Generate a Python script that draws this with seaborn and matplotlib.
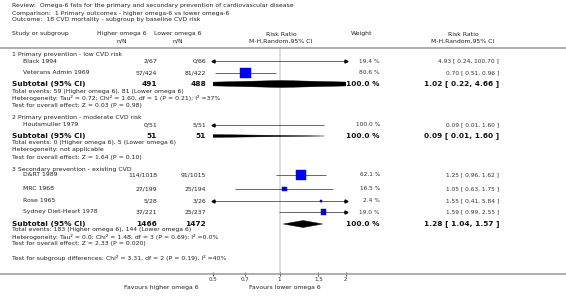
import numpy as np
import pandas as pd
import matplotlib
matplotlib.use("Agg")
import matplotlib.pyplot as plt
import seaborn as sns
from matplotlib.lines import Line2D
from matplotlib.patches import Polygon
from matplotlib.ticker import NullLocator

# ---------------- data ----------------
review = "Review:  Omega-6 fats for the primary and secondary prevention of cardiovascular disease"
comparison = "Comparison:  1 Primary outcomes - higher omega-6 vs lower omega-6"
outcome = "Outcome:  18 CVD mortality - subgroup by baseline CVD risk"

groups = ["1 Primary prevention - low CVD risk",
          "2 Primary prevention - moderate CVD risk",
          "3 Secondary prevention - existing CVD"]
study_names = ["Black 1994", "Veterans Admin 1969", "Houtsmuller 1979",
               "D&RT 1989", "MRC 1968", "Rose 1965", "Sydney Diet-Heart 1978"]
study_group = [0, 0, 1, 2, 2, 2, 2]
higher_events = [2, 57, 0, 114, 27, 5, 37]
higher_total = [67, 424, 51, 1018, 199, 28, 221]
lower_events = [0, 81, 5, 91, 25, 3, 25]
lower_total = [66, 422, 51, 1015, 194, 26, 237]
weights = [19.4, 80.6, 100.0, 62.1, 16.5, 2.4, 19.0]
rr = [4.93, 0.70, 0.09, 1.25, 1.05, 1.55, 1.59]
rr_lo = [0.24, 0.51, 0.01, 0.96, 0.63, 0.41, 0.99]
rr_hi = [100.70, 0.96, 1.60, 1.62, 1.75, 5.84, 2.55]

sub_higher_total = [491, 51, 1466]
sub_lower_total = [488, 51, 1472]
sub_weight = [100.0, 100.0, 100.0]
sub_rr = [1.02, 0.09, 1.28]
sub_lo = [0.22, 0.01, 1.04]
sub_hi = [4.66, 1.60, 1.57]
sub_events_text = ["Total events: 59 (Higher omega 6), 81 (Lower omega 6)",
                   "Total events: 0 (Higher omega 6), 5 (Lower omega 6)",
                   "Total events: 183 (Higher omega 6), 144 (Lower omega 6)"]
sub_het_text = ["Heterogeneity: Tau\u00b2 = 0.72; Chi\u00b2 = 1.60, df = 1 (P = 0.21); I\u00b2 =37%",
                "Heterogeneity: not applicable",
                "Heterogeneity: Tau\u00b2 = 0.0; Chi\u00b2 = 1.48, df = 3 (P = 0.69); I\u00b2 =0.0%"]
sub_effect_text = ["Test for overall effect: Z = 0.03 (P = 0.98)",
                   "Test for overall effect: Z = 1.64 (P = 0.10)",
                   "Test for overall effect: Z = 2.33 (P = 0.020)"]
subgroup_diff = "Test for subgroup differences: Chi\u00b2 = 3.31, df = 2 (P = 0.19), I\u00b2 =40%"
x_ticks = [0.5, 0.7, 1, 1.5, 2]
x_tick_labels = ["0.5", "0.7", "1", "1.5", "2"]
x_range = [0.5, 2]
favours_left = "Favours higher omega 6"
favours_right = "Favours lower omega 6"

# ---------------- layout (pixels) ----------------
W, H = 566, 297
group_y = [55, 118, 169]
study_y = [61, 73, 125, 175, 189, 201, 212]
subtotal_y = [84, 136, 224]
info_y0 = [91, 143, 230]
info_dy = 7
diff_y = 258
sep_y = 48
axis_y = 274
ax_left, ax_right = 213.3, 345.7

sns.set_theme(style="white")
plt.rcParams["font.family"] = ["DejaVu Sans"]

fig = plt.figure(figsize=(W / 100, H / 100), dpi=100)

def T(x, y, s, ha="left", size=4.4, weight="normal", color="#222222"):
    fig.text(x / W, 1 - y / H, s, ha=ha, va="center", fontsize=size,
             fontweight=weight, color=color)

# header
T(12, 6, review)
T(12, 13, comparison)
T(12, 20, outcome)
T(12, 34, "Study or subgroup")
T(122, 34, "Higher omega 6", ha="center")
T(122, 41, "n/N", ha="center")
T(178, 34, "Lower omega 6", ha="center")
T(178, 41, "n/N", ha="center")
T(281, 34, "Risk Ratio", ha="center")
T(281, 41, "M-H,Random,95% CI", ha="center")
T(362, 34, "Weight", ha="center")
T(463, 34, "Risk Ratio", ha="center")
T(463, 41, "M-H,Random,95% CI", ha="center")

fig.add_artist(Line2D([0, 1], [1 - sep_y / H] * 2, transform=fig.transFigure,
                      color="#a0a0a0", lw=1.2))
fig.add_artist(Line2D([0, 1], [1 - axis_y / H] * 2, transform=fig.transFigure,
                      color="#a0a0a0", lw=1.2))

# left/right text columns
for g, gname in enumerate(groups):
    T(12, group_y[g], gname)
for i, name in enumerate(study_names):
    y = study_y[i]
    T(23, y, name)
    T(157, y, f"{higher_events[i]}/{higher_total[i]}", ha="right")
    T(206, y, f"{lower_events[i]}/{lower_total[i]}", ha="right")
    T(380, y, f"{weights[i]:.1f} %", ha="right", size=4.2, color="#333333")
    T(499, y, f"{rr[i]:.2f} [ {rr_lo[i]:.2f}, {rr_hi[i]:.2f} ]", ha="right",
      size=4.2, color="#333333")
for g in range(3):
    y = subtotal_y[g]
    T(12, y, "Subtotal (95% CI)", size=5.3, weight="bold", color="#111111")
    T(157, y, f"{sub_higher_total[g]}", ha="right", size=5.3, weight="bold", color="#111111")
    T(206, y, f"{sub_lower_total[g]}", ha="right", size=5.3, weight="bold", color="#111111")
    T(380, y, f"{sub_weight[g]:.1f} %", ha="right", size=5.3, weight="bold", color="#111111")
    T(499, y, f"{sub_rr[g]:.2f} [ {sub_lo[g]:.2f}, {sub_hi[g]:.2f} ]", ha="right",
      size=5.3, weight="bold", color="#111111")
    for k, s in enumerate([sub_events_text[g], sub_het_text[g], sub_effect_text[g]]):
        T(12, info_y0[g] + k * info_dy, s)
T(12, diff_y, subgroup_diff)
T(161, 287, favours_left, ha="center")
T(285, 287, favours_right, ha="center")

# ---------------- forest axis ----------------
ax = fig.add_axes([ax_left / W, 1 - axis_y / H, (ax_right - ax_left) / W,
                   (axis_y - sep_y) / H])
ax.set_xscale("log")
ax.axvline(1, color="#d4d4d4", lw=1.1, zorder=0)

lo_c = np.clip(rr_lo, *x_range)
hi_c = np.clip(rr_hi, *x_range)
ax.hlines(study_y, lo_c, hi_c, color="#666666", lw=0.7, zorder=1)
for i in range(len(rr)):
    if rr_lo[i] < x_range[0]:
        ax.plot([x_range[0]], [study_y[i]], marker="<", ms=2.2, color="black",
                clip_on=False, zorder=3)
    if rr_hi[i] > x_range[1]:
        ax.plot([x_range[1]], [study_y[i]], marker=">", ms=2.2, color="black",
                clip_on=False, zorder=3)

df = pd.DataFrame({"rr": rr, "y": study_y, "weight": weights})
sns.scatterplot(data=df, x="rr", y="y", size="weight", sizes=(0, 73.7),
                size_norm=(0, 100), marker="s", color="#0000ff",
                edgecolor="#0000aa", linewidth=0.3, legend=False, ax=ax, zorder=2)
ax.plot(rr, study_y, ls="none", marker="|", ms=1.8, mew=0.6, color="black", zorder=3)

# subtotal diamonds
half_h = 3.5
for g in range(3):
    y = subtotal_y[g]
    verts = [(sub_lo[g], y), (sub_rr[g], y - half_h), (sub_hi[g], y), (sub_rr[g], y + half_h)]
    ax.add_patch(Polygon(verts, closed=True, facecolor="black", edgecolor="black",
                         lw=0.3, zorder=3))

ax.set_xlim(*x_range)
ax.set_ylim(axis_y, sep_y)
ax.set_xlabel("")
ax.set_ylabel("")
ax.set_yticks([])
ax.xaxis.set_minor_locator(NullLocator())
ax.set_xticks(x_ticks, labels=x_tick_labels)
ax.tick_params(axis="x", direction="inout", length=3, width=0.6, color="#333333",
               labelsize=4, pad=0.5, labelcolor="#333333", bottom=True)
for sp in ax.spines.values():
    sp.set_visible(False)
ax.patch.set_alpha(0)

fig.savefig("out.png", dpi=100)
